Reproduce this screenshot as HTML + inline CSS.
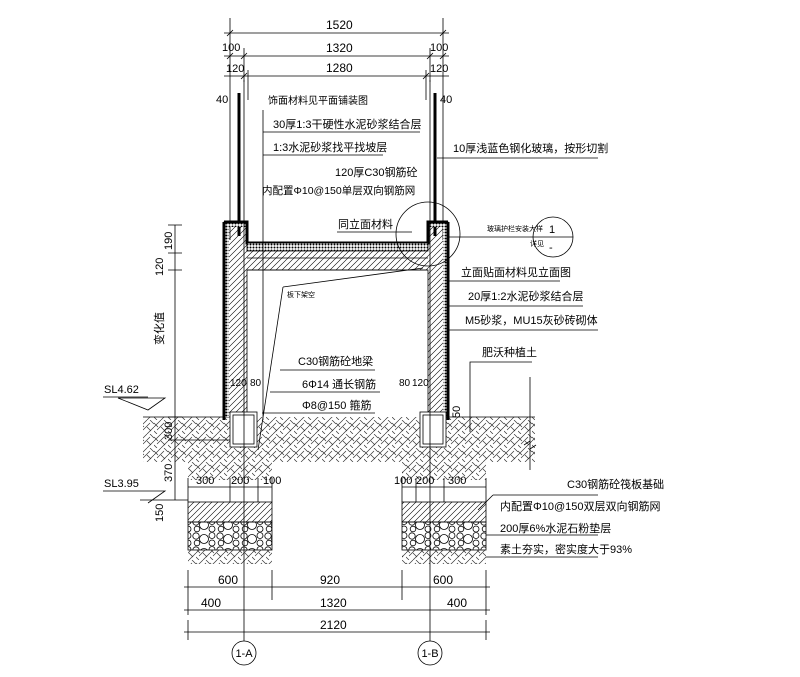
<!DOCTYPE html>
<html><head><meta charset="utf-8"><style>
html,body{margin:0;padding:0;background:#fff;}
svg{display:block;}
text{font-family:"Liberation Sans","Noto Sans CJK SC",sans-serif;fill:#000;}
</style></head><body>
<svg width="800" height="677" viewBox="0 0 800 677" xmlns="http://www.w3.org/2000/svg">
<defs>
<pattern id="diag" width="6" height="6" patternUnits="userSpaceOnUse"><path d="M0 6L6 0M-1 1L1 -1M5 7L7 5" stroke="#000" stroke-width="0.6"/></pattern>
<pattern id="soil" width="14" height="14" patternUnits="userSpaceOnUse">
<path d="M0 7L7 0M3 10L10 3M7 14L14 7M0 3L4 7M7 7L11 11M10 0L14 4M0 11L3 14" stroke="#333" stroke-width="0.7"/></pattern>
<pattern id="grav" width="24" height="14" patternUnits="userSpaceOnUse">
<circle cx="4" cy="4" r="3.2" fill="none" stroke="#000" stroke-width="0.8"/><circle cx="12" cy="7" r="4.5" fill="none" stroke="#000" stroke-width="0.8"/><circle cx="20" cy="3.5" r="3" fill="none" stroke="#000" stroke-width="0.8"/><circle cx="5" cy="11" r="2.8" fill="none" stroke="#000" stroke-width="0.8"/><circle cx="20" cy="11" r="3" fill="none" stroke="#000" stroke-width="0.8"/></pattern>
<pattern id="dots" width="3" height="3" patternUnits="userSpaceOnUse"><rect width="3" height="3" fill="#fff"/><circle cx="1.5" cy="1.5" r="1" fill="#000"/></pattern>
</defs>
<g stroke="#000" stroke-width="0.8" fill="none">
<path d="M230 18V240M443 18V240M224 33H449M230 56H443M244 48V82M430 48V82M224 56H449M244 76H430M248 70V100M426 70V100M224 76H449"/>
<path d="M227 36l6-6M440 36l6-6M227 59l6-6M241 59l6-6M427 59l6-6M440 59l6-6M241 79l6-6M423 79l6-6"/>
<path d="M239 93V236M435 93V236" stroke-width="3"/>
<path d="M143 417H535V462H486V480H402V462H272V480H188V462H143Z" fill="url(#soil)" stroke="none"/>
<path d="M143 417H224M448 417H535"/>
<path d="M224 222H247V243H428V222H448V417H428V270H247V417H224Z" fill="url(#diag)"/>
<rect x="225" y="223" width="4" height="194" fill="url(#dots)" stroke="none"/>
<rect x="443" y="223" width="4" height="194" fill="url(#dots)" stroke="none"/>
<rect x="225" y="223" width="22" height="4" fill="url(#dots)" stroke="none"/>
<rect x="428" y="223" width="19" height="4" fill="url(#dots)" stroke="none"/>
<path d="M224 222H247V243H428V222H448M224 222V420M448 222V420" stroke-width="3"/>
<rect x="247" y="243" width="181" height="8" fill="url(#dots)"/>
<path d="M247 258H428M247 270H428"/>
<rect x="230" y="412" width="27" height="35" fill="#fff"/><rect x="233" y="415" width="21" height="29"/>
<rect x="420" y="412" width="26" height="35" fill="#fff"/><rect x="423" y="415" width="20" height="29"/>
<rect x="188" y="502" width="84" height="20" fill="url(#diag)"/><rect x="188" y="522" width="84" height="28" fill="url(#grav)"/>
<rect x="188" y="550" width="84" height="14" fill="url(#soil)" stroke="none"/>
<rect x="402" y="502" width="84" height="20" fill="url(#diag)"/><rect x="402" y="522" width="84" height="28" fill="url(#grav)"/>
<rect x="402" y="550" width="84" height="14" fill="url(#soil)" stroke="none"/>
<path d="M188 487H272M188 478V502M230 478V502M258 478V502M272 478V502M402 487H486M402 478V502M416 478V502M444 478V502M486 478V502"/>
<path d="M188 570V615M486 570V615M272 570V600M402 570V600M184 587H490M184 610H490M184 632H490M188 620V640M486 620V640"/>
<path d="M244 80V641M430 80V641"/>
<circle cx="244" cy="653" r="12" fill="#fff"/><circle cx="430" cy="653" r="12" fill="#fff"/>
<path d="M175 225V500M168 225H182M168 253H182M168 270H182M168 417H182M168 440H182M168 500H182M175 440H230M140 500H188M118 398H165L148 410Z"/>
<path d="M103 397H148M103 491H148M118 491H165L148 503"/>
<path d="M263 110V420M263 132H420M263 155H383M337 232H412M283 287L423 268M283 287L258 450M280 370H375M270 392H380M262 413H375"/>
<path d="M437 158H598M448 237H573M448 281H560M448 306H583M448 330H598M470 432V362H532M530 377V470M524 445l6-4 0 8 6-4"/>
<circle cx="428" cy="234" r="32"/><circle cx="553" cy="237" r="20"/>
<path d="M493 495H598M478 510L493 495M486 535H598M486 557H598"/>
</g>
<g font-size="12">
<text x="326" y="29">1520</text><text x="326" y="52">1320</text><text x="326" y="72">1280</text>
<text x="222" y="51" font-size="11">100</text><text x="430" y="51" font-size="11">100</text>
<text x="226" y="72" font-size="11">120</text><text x="430" y="72" font-size="11">120</text>
<text x="216" y="103" font-size="11">40</text><text x="440" y="103" font-size="11">40</text>
<text x="320" y="584">920</text><text x="218" y="584">600</text><text x="433" y="584">600</text>
<text x="201" y="607">400</text><text x="320" y="607">1320</text><text x="447" y="607">400</text>
<text x="320" y="629">2120</text>
<text x="196" y="484" font-size="11">300</text><text x="231" y="484" font-size="11">200</text><text x="263" y="484" font-size="11">100</text>
<text x="394" y="484" font-size="11">100</text><text x="416" y="484" font-size="11">200</text><text x="448" y="484" font-size="11">300</text>
<text x="244" y="657" font-size="11" text-anchor="middle">1-A</text><text x="430" y="657" font-size="11" text-anchor="middle">1-B</text>
<text x="104" y="393" font-size="11">SL4.62</text><text x="104" y="487" font-size="11">SL3.95</text>
<text x="230" y="386" font-size="10">120</text><text x="250" y="386" font-size="10">80</text>
<text x="399" y="386" font-size="10">80</text><text x="412" y="386" font-size="10">120</text>
</g>
<g font-size="11">
<text transform="translate(172 250) rotate(-90)">190</text>
<text transform="translate(163 276) rotate(-90)">120</text>
<text transform="translate(163 345) rotate(-90)">变化值</text>
<text transform="translate(172 440) rotate(-90)">300</text>
<text transform="translate(172 482) rotate(-90)">370</text>
<text transform="translate(163 522) rotate(-90)">150</text>
<text transform="translate(460 418) rotate(-90)">50</text>
<text x="268" y="104" font-size="10">饰面材料见平面铺装图</text>
<text x="273" y="128">30厚1:3干硬性水泥砂浆结合层</text>
<text x="273" y="151">1:3水泥砂浆找平找坡层</text>
<text x="335" y="176">120厚C30钢筋砼</text>
<text x="262" y="194" font-size="10.5">内配置Φ10@150单层双向钢筋网</text>
<text x="338" y="228">同立面材料</text>
<text x="287" y="297" font-size="7">板下架空</text>
<text x="298" y="365">C30钢筋砼地梁</text>
<text x="302" y="388">6Φ14 通长钢筋</text>
<text x="302" y="409">Φ8@150 箍筋</text>
<text x="453" y="152">10厚浅蓝色钢化玻璃，按形切割</text>
<text x="487" y="231" font-size="7">玻璃护栏安装大样</text><text x="530" y="246" font-size="7">详见</text>
<text x="549" y="233">1</text><text x="549" y="251">-</text>
<text x="461" y="276">立面贴面材料见立面图</text>
<text x="468" y="300">20厚1:2水泥砂浆结合层</text>
<text x="465" y="324">M5砂浆，MU15灰砂砖砌体</text>
<text x="482" y="356">肥沃种植土</text>
<text x="567" y="488">C30钢筋砼筏板基础</text>
<text x="500" y="510">内配置Φ10@150双层双向钢筋网</text>
<text x="500" y="532">200厚6%水泥石粉垫层</text>
<text x="500" y="553">素土夯实，密实度大于93%</text>
</g>
</svg>
</body></html>
